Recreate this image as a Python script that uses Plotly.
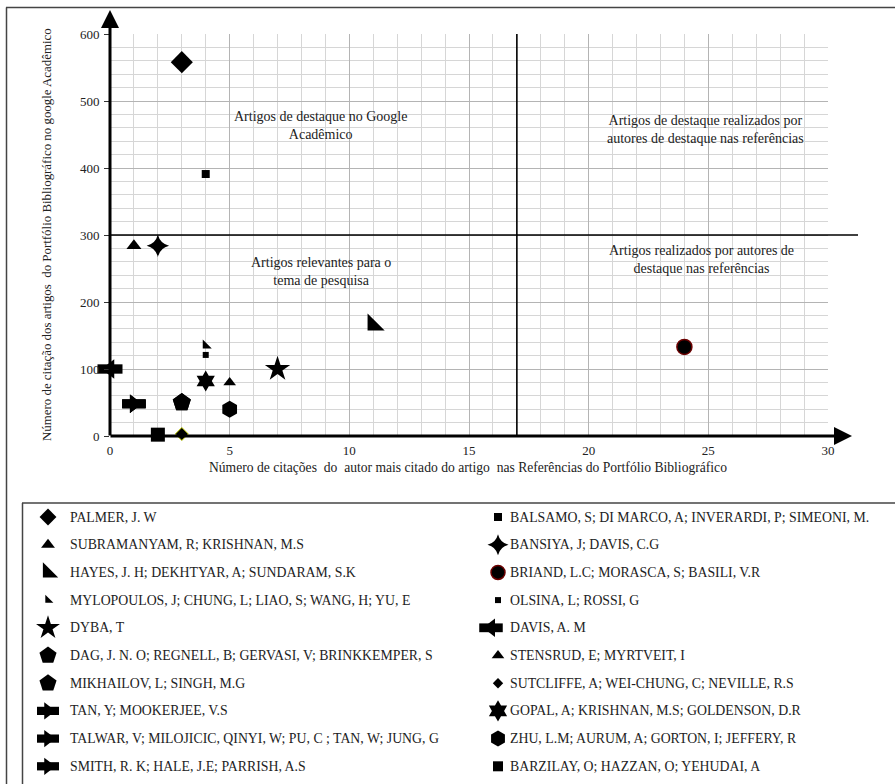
import plotly.graph_objects as go

W, H = 895, 784

# ---------------- data ----------------
authors = [
    "PALMER, J. W",
    "SUBRAMANYAM, R; KRISHNAN, M.S",
    "HAYES, J. H; DEKHTYAR, A; SUNDARAM, S.K",
    "MYLOPOULOS, J; CHUNG, L; LIAO, S; WANG, H; YU, E",
    "DYBA, T",
    "DAG, J. N. O; REGNELL, B; GERVASI, V; BRINKKEMPER, S",
    "MIKHAILOV, L; SINGH, M.G",
    "TAN, Y; MOOKERJEE, V.S",
    "TALWAR, V; MILOJICIC, QINYI, W; PU, C ; TAN, W; JUNG, G",
    "SMITH, R. K; HALE, J.E; PARRISH, A.S",
    "BALSAMO, S; DI MARCO, A; INVERARDI, P; SIMEONI, M.",
    "BANSIYA, J; DAVIS, C.G",
    "BRIAND, L.C; MORASCA, S; BASILI, V.R",
    "OLSINA, L; ROSSI, G",
    "DAVIS, A. M",
    "STENSRUD, E; MYRTVEIT, I",
    "SUTCLIFFE, A; WEI-CHUNG, C; NEVILLE, R.S",
    "GOPAL, A; KRISHNAN, M.S; GOLDENSON, D.R",
    "ZHU, L.M; AURUM, A; GORTON, I; JEFFERY, R",
    "BARZILAY, O; HAZZAN, O; YEHUDAI, A",
]
cit_autor = [3, 1, 11, 4, 7, 3, 3, 1, 1, 1, 4, 2, 24, 4, 0, 5, 3, 4, 5, 2]
cit_google = [558, 284, 166, 135, 100, 50, 50, 48, 48, 48, 391, 284, 133, 121, 100, 80, 3, 82, 40, 2]

x_ticks = [0, 5, 10, 15, 20, 25, 30]
y_ticks = [0, 100, 200, 300, 400, 500, 600]

quadrant_labels = [
    "Artigos de destaque no Google<br>Acadêmico",
    "Artigos de destaque realizados por<br>autores de destaque nas referências",
    "Artigos relevantes para o<br>tema de pesquisa",
    "Artigos realizados por autores de<br>destaque nas referências",
]
quadrant_pos_x = [8.8, 24.9, 8.8, 24.7]
quadrant_pos_y = [463, 457, 245, 263]
limit_x = 17
limit_y = 300

x_title = "Número de citações  do  autor mais citado do artigo  nas Referências do Portfólio Bibliográfico"
y_title = "Número de citação dos artigos  do Portfólio Bibliográfico no google Acadêmico"

# ---------------- styles ----------------
# (kind, symbol, plot size, legend size, line color, line width)
# kind "a" = block arrow built from a shaft + a head (symbol gives direction)
styles = [
    ("m", "diamond", 17, 13, None, 0),
    ("m", "triangle-up", 13, 12, None, 0),
    ("m", "triangle-sw", 19, 17, None, 0),
    ("m", "triangle-sw", 10, 9, None, 0),
    ("m", "star", 19, 18, None, 0),
    ("m", "pentagon", 19, 18, None, 0),
    ("m", "pentagon", 19, 18, None, 0),
    ("a", "right", 16, 15, None, 0),
    ("a", "right", 16, 15, None, 0),
    ("a", "right", 16, 15, None, 0),
    ("m", "square", 8, 8, None, 0),
    ("m", "star-diamond", 16, 15, None, 0),
    ("m", "circle", 15, 14, "#6b0000", 1.5),
    ("m", "square", 6, 6, None, 0),
    ("a", "left", 17, 16, None, 0),
    ("m", "triangle-up", 11, 11, None, 0),
    ("m", "diamond", 10, 8, "#c2cc00", 1),
    ("m", "hexagram", 16, 16, None, 0),
    ("m", "hexagon", 17, 16, None, 0),
    ("m", "square", 14, 10, None, 0),
]

SERIF = "Liberation Serif, Times New Roman, serif"


def px_x(p):
    return p / W


def px_y(p):
    return 1 - p / H


def add_glyph(fig, x, y, st, size, axes, name=None):
    kind, sym, psize, lsize, lcol, lw = st
    xa, ya = axes
    if kind == "m":
        fig.add_trace(go.Scatter(
            x=x, y=y, mode="markers", name=name, showlegend=False,
            cliponaxis=False, xaxis=xa, yaxis=ya,
            marker=dict(symbol=sym, size=size, color="black",
                        line=dict(color=lcol or "black", width=lw)),
        ))
    else:
        # block arrow: thick shaft + triangular head
        fig.add_trace(go.Scatter(
            x=x, y=y, mode="markers", name=name, showlegend=False,
            cliponaxis=False, xaxis=xa, yaxis=ya,
            marker=dict(symbol="line-ew", size=size * 1.05, color="black",
                        line=dict(color="black", width=size * 0.55)),
        ))
        fig.add_trace(go.Scatter(
            x=x, y=y, mode="markers", name=name, showlegend=False,
            cliponaxis=False, xaxis=xa, yaxis=ya,
            marker=dict(symbol="triangle-" + sym, size=size, color="black",
                        line=dict(width=0)),
        ))


fig = go.Figure()

# main plot marks
for name, xv, yv, st in zip(authors, cit_autor, cit_google, styles):
    add_glyph(fig, [xv], [yv], st, st[2], ("x", "y"), name=name)

# custom two-column legend (on its own hidden axes)
col_glyph_x = [48, 498]
col_text_x = [68, 508]
row_top = 517
row_step = 27.7
annotations = []
for i, (name, st) in enumerate(zip(authors, styles)):
    col, row = divmod(i, 10)
    gx = col_glyph_x[col]
    if st[0] == "a" and st[1] == "left":
        gx -= 7  # left-pointing arrow sits a little further from its label
    gy = row_top + row * row_step
    lst = st if st[5] > 1 else (st[0], st[1], st[2], st[3], None, 0)
    add_glyph(fig, [gx], [gy], lst, st[3], ("x2", "y2"))
    annotations.append(dict(
        x=col_text_x[col], y=gy, xref="x2", yref="y2", text=name, showarrow=False,
        xanchor="left", yanchor="middle", font=dict(family=SERIF, size=13.8, color="#222"),
    ))

# quadrant labels
for t, qx, qy in zip(quadrant_labels, quadrant_pos_x, quadrant_pos_y):
    annotations.append(dict(
        x=qx, y=qy, xref="x", yref="y", text=t, showarrow=False,
        xanchor="center", yanchor="middle", align="center",
        font=dict(family=SERIF, size=14, color="#222"),
    ))

# axis titles
annotations.append(dict(
    x=px_x(468), y=px_y(467), xref="paper", yref="paper", text=x_title, showarrow=False,
    xanchor="center", yanchor="middle", font=dict(family=SERIF, size=13.6, color="#222"),
))
annotations.append(dict(
    x=px_x(47), y=px_y(235), xref="paper", yref="paper", text=y_title, showarrow=False,
    textangle=-90, xanchor="center", yanchor="middle", font=dict(family=SERIF, size=12.9, color="#222"),
))

# axis arrows
annotations.append(dict(
    x=px_x(110), y=px_y(10), xref="paper", yref="paper", ax=0, ay=427, text="",
    showarrow=True, arrowhead=2, arrowwidth=3, arrowsize=1.2, arrowcolor="black",
))
annotations.append(dict(
    x=px_x(852), y=px_y(436), xref="paper", yref="paper", ax=-743, ay=0, text="",
    showarrow=True, arrowhead=2, arrowwidth=3, arrowsize=1.2, arrowcolor="black",
))

shapes = [
    # quadrant limits
    dict(type="line", xref="x", yref="y", x0=limit_x, x1=limit_x, y0=0, y1=600,
         line=dict(color="black", width=1.6)),
    dict(type="line", xref="paper", yref="y", x0=px_x(110), x1=px_x(858), y0=limit_y, y1=limit_y,
         line=dict(color="black", width=1.6)),
    # outer frame
    dict(type="line", xref="paper", yref="paper", x0=px_x(6), x1=px_x(900), y0=px_y(7.5), y1=px_y(7.5),
         line=dict(color="#444", width=1.5)),
    dict(type="line", xref="paper", yref="paper", x0=px_x(6.5), x1=px_x(6.5), y0=px_y(7.5), y1=px_y(790),
         line=dict(color="#444", width=1.5)),
    # legend box
    dict(type="line", xref="paper", yref="paper", x0=px_x(22), x1=px_x(900), y0=px_y(503), y1=px_y(503),
         line=dict(color="#444", width=1.5)),
    dict(type="line", xref="paper", yref="paper", x0=px_x(22.5), x1=px_x(22.5), y0=px_y(503), y1=px_y(790),
         line=dict(color="#444", width=1.5)),
]

fig.update_layout(
    width=W, height=H,
    margin=dict(l=0, r=0, t=0, b=0),
    paper_bgcolor="white", plot_bgcolor="white",
    showlegend=False,
    template="none",
    xaxis=dict(
        domain=[px_x(110), px_x(828)], range=[0, 30], tickvals=x_ticks,
        showgrid=True, gridcolor="#b4b4b4", gridwidth=1,
        minor=dict(dtick=1, showgrid=True, gridcolor="#d6d6d6", gridwidth=1),
        zeroline=False, showline=False, ticks="", automargin=False,
        ticklabelstandoff=5,
        tickfont=dict(family=SERIF, size=13, color="#222"),
        anchor="y", fixedrange=True,
    ),
    yaxis=dict(
        domain=[px_y(436), px_y(34)], range=[0, 600], tickvals=y_ticks,
        showgrid=True, gridcolor="#b4b4b4", gridwidth=1,
        minor=dict(dtick=20, showgrid=True, gridcolor="#d6d6d6", gridwidth=1),
        zeroline=False, showline=False, ticks="outside", ticklen=5, tickcolor="#333",
        ticklabelstandoff=2,
        automargin=False, tickfont=dict(family=SERIF, size=13, color="#222"),
        anchor="x", fixedrange=True,
    ),
    xaxis2=dict(domain=[0, 1], range=[0, W], visible=False, anchor="y2", fixedrange=True),
    yaxis2=dict(domain=[0, px_y(503)], range=[H, 503], visible=False, anchor="x2", fixedrange=True),
    annotations=annotations,
    shapes=shapes,
)

fig.write_html(
    "out.html",
    config={"displayModeBar": False},
    post_script="document.body.style.margin='0';document.body.style.overflow='hidden';",
)
